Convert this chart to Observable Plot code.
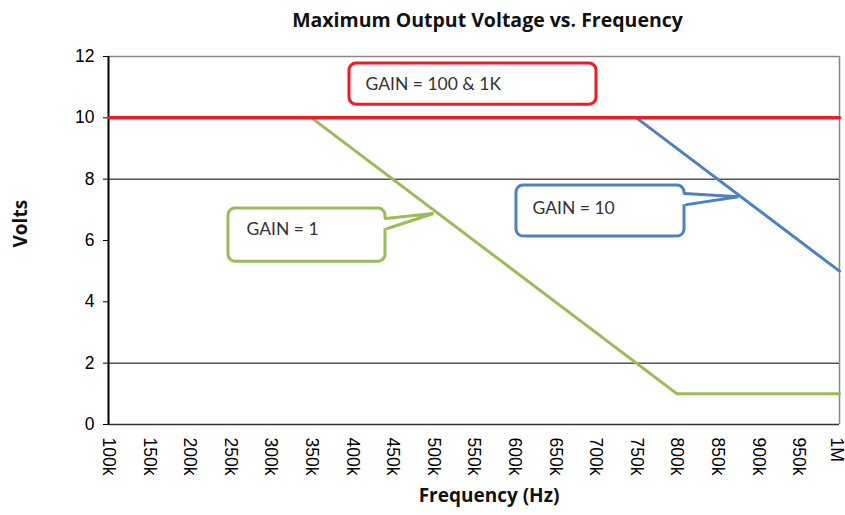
<!DOCTYPE html>
<html>
<head>
<meta charset="utf-8">
<script src="https://cdn.jsdelivr.net/npm/d3@7"></script>
<script src="https://cdn.jsdelivr.net/npm/@observablehq/plot@0.6"></script>
<style>
  html, body { margin: 0; padding: 0; background: white; }
  #title { width: 845px; height: 40px; box-sizing: border-box; padding-left: 130px; text-align: center;
           font-family: "Open Sans", Lato, sans-serif; font-weight: bold; font-size: 19.5px; line-height: 40px; color: #111; }
</style>
</head>
<body>
<div id="title">Maximum Output Voltage vs. Frequency</div>
<div id="chart"></div>
<script>
// ---- data ----
const xTicks = [100e3,150e3,200e3,250e3,300e3,350e3,400e3,450e3,500e3,550e3,600e3,650e3,700e3,750e3,800e3,850e3,900e3,950e3,1e6];
const xTickLabels = ["100k","150k","200k","250k","300k","350k","400k","450k","500k","550k","600k","650k","700k","750k","800k","850k","900k","950k","1M"];
const yTicks = [0,2,4,6,8,10,12];
const gridY = [2,8,10];

// GAIN = 100 & 1K (red)
const freqGain100 = [100e3, 1e6];
const voltsGain100 = [10, 10];
// GAIN = 1 (green)
const freqGain1 = [350e3, 800e3, 1e6];
const voltsGain1 = [10, 1, 1];
// GAIN = 10 (blue)
const freqGain10 = [750e3, 1e6];
const voltsGain10 = [10, 5];

// callout annotations (data coordinates)
const calloutLabels = ["GAIN = 100 & 1K", "GAIN = 1", "GAIN = 10"];
const calloutColors = ["#ee1c25", "#9bbb59", "#4f81bd"];
const calloutX1 = [396.7e3, 247.7e3, 602.3e3];
const calloutX2 = [700.8e3, 441.0e3, 809.2e3];
const calloutY1 = [10.43, 5.31, 6.13];
const calloutY2 = [11.77, 7.04, 7.79];
const calloutTextX = [416.4e3, 269.9e3, 622.0e3];
const calloutTextY = [11.09, 6.36, 7.04];
// tails: [attach top, tip, attach bottom]
const tailGain1X = [441.0e3, 500.1e3, 443.5e3];
const tailGain1Y = [6.72, 6.88, 6.39];
const tailGain10X = [809.2e3, 875.7e3, 811.6e3];
const tailGain10Y = [7.53, 7.43, 7.17];

// ---- build ----
const pts = (xs, ys) => xs.map((x, i) => ({x, y: ys[i]}));
const boxes = calloutLabels.map((t, i) => ({t, c: calloutColors[i], x1: calloutX1[i], x2: calloutX2[i], y1: calloutY1[i], y2: calloutY2[i], tx: calloutTextX[i], ty: calloutTextY[i]}));
const inset = 5e3;
const tailFill = (xs, ys) => [{x: xs[0] - inset, y: ys[0]}, {x: xs[1], y: ys[1]}, {x: xs[2] - inset, y: ys[2]}];
const labelFont = "'Open Sans', Lato, sans-serif";
const fmtX = d => xTickLabels[xTicks.indexOf(d)];
const lastTick = xTicks[xTicks.length - 1];

const chart = Plot.plot({
  width: 845,
  height: 475,
  marginTop: 16,
  marginBottom: 91,
  marginLeft: 108,
  marginRight: 6,
  style: {fontFamily: "'Liberation Sans', Arial, sans-serif", fontSize: "17.5px", color: "#000", background: "white", overflow: "visible"},
  x: {domain: [100e3, 1e6]},
  y: {domain: [0, 12]},
  marks: [
    Plot.ruleY(gridY, {stroke: "#000", strokeWidth: 1}),
    Plot.ruleY([12], {stroke: "#888", strokeWidth: 1.5}),
    Plot.ruleX([1e6], {stroke: "#888", strokeWidth: 1.5}),
    Plot.ruleY([0], {stroke: "#333", strokeWidth: 1.5}),
    Plot.ruleX([100e3], {stroke: "#000", strokeWidth: 2}),
    Plot.axisY({ticks: yTicks, tickSize: 5, tickPadding: 9, label: null, fontSize: 17.5}),
    Plot.axisX({ticks: xTicks.slice(0, -1), tickFormat: fmtX, tickRotate: 90, tickSize: 0, tickPadding: 13, label: null, fontSize: 17.5}),
    Plot.axisX({ticks: [lastTick], tickFormat: fmtX, tickRotate: 90, tickSize: 0, tickPadding: 13, label: null, fontSize: 17.5, dx: -3}),
    Plot.line(pts(freqGain1, voltsGain1), {x: "x", y: "y", stroke: "#9bbb59", strokeWidth: 3}),
    Plot.line(pts(freqGain10, voltsGain10), {x: "x", y: "y", stroke: "#4f81bd", strokeWidth: 3}),
    Plot.line(pts(freqGain100, voltsGain100), {x: "x", y: "y", stroke: "#ee1c25", strokeWidth: 3.5}),
    Plot.rect(boxes, {x1: "x1", x2: "x2", y1: "y1", y2: "y2", fill: "white", stroke: "c", strokeWidth: 3, rx: 7}),
    Plot.line(tailFill(tailGain1X, tailGain1Y), {x: "x", y: "y", fill: "white", stroke: "none"}),
    Plot.line(pts(tailGain1X, tailGain1Y), {x: "x", y: "y", stroke: "#9bbb59", strokeWidth: 3, strokeLinejoin: "miter"}),
    Plot.line(tailFill(tailGain10X, tailGain10Y), {x: "x", y: "y", fill: "white", stroke: "none"}),
    Plot.line(pts(tailGain10X, tailGain10Y), {x: "x", y: "y", stroke: "#4f81bd", strokeWidth: 3, strokeLinejoin: "miter"}),
    Plot.text(boxes, {x: "tx", y: "ty", text: "t", textAnchor: "start", fill: "#333", fontSize: 17.5, fontFamily: "Lato, 'Open Sans', sans-serif"}),
    Plot.text(["Frequency (Hz)"], {frameAnchor: "bottom", dx: 15, dy: 77, fontSize: 19, fontWeight: "bold", fontFamily: labelFont, fill: "#111"}),
    Plot.text(["Volts"], {frameAnchor: "left", dx: -88, dy: 7, rotate: -90, fontSize: 19, fontWeight: "bold", fontFamily: labelFont, fill: "#111"})
  ]
});
document.getElementById("chart").appendChild(chart);
</script>
</body>
</html>
